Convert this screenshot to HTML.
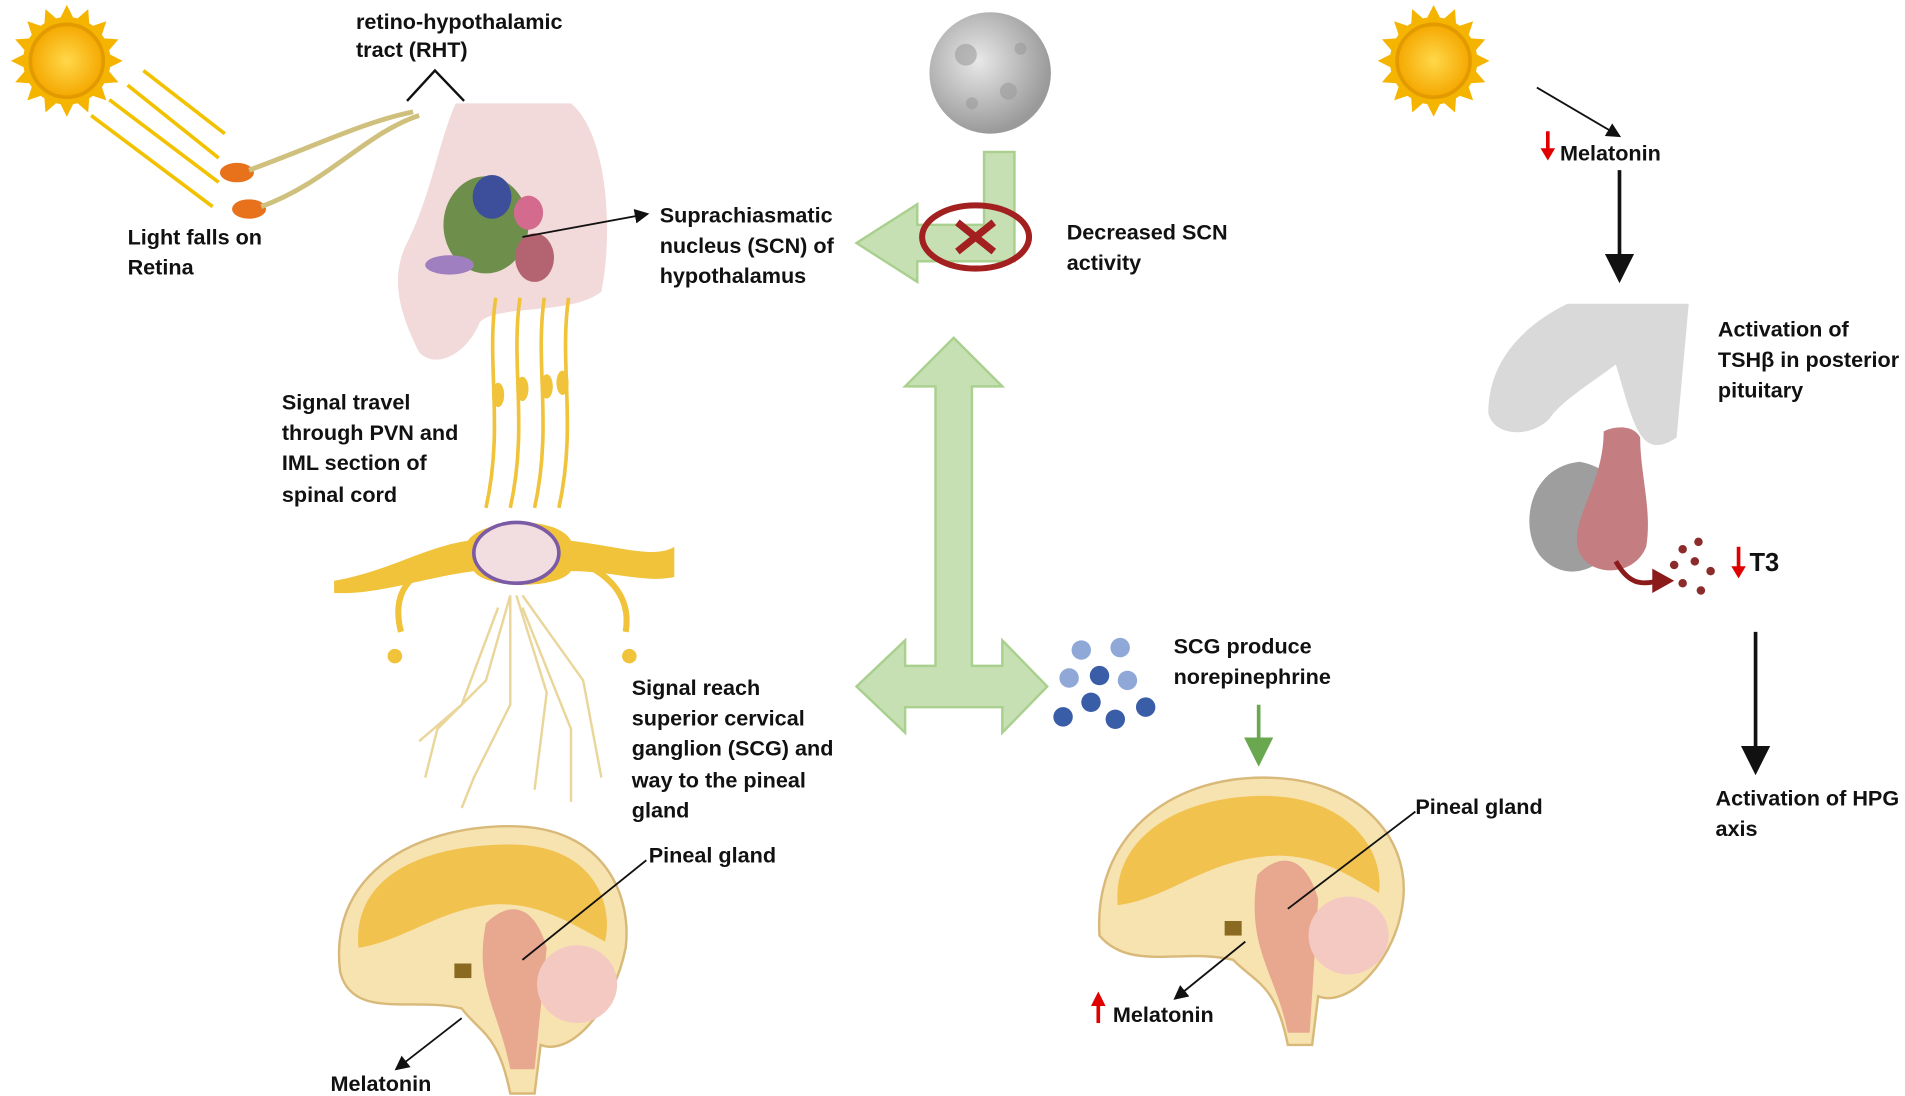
<!DOCTYPE html>
<html><head><meta charset="utf-8"><style>
html,body{margin:0;padding:0;background:#fff;}
svg{display:block;}
text{font-family:"Liberation Sans",sans-serif;font-weight:bold;font-size:17.8px;fill:#111;}
</style></head><body>
<svg width="1905" height="1096" viewBox="0 0 1568 902" xmlns="http://www.w3.org/2000/svg">
<defs>
<marker id="ah" markerWidth="8" markerHeight="8" refX="7" refY="4" orient="auto"><path d="M0,0 L8,4 L0,8 z" fill="#111"/></marker>
<marker id="ahg" markerWidth="8" markerHeight="8" refX="7" refY="4" orient="auto"><path d="M0,0 L8,4 L0,8 z" fill="#6aa84f"/></marker>
<radialGradient id="sun" cx="50%" cy="50%" r="50%"><stop offset="0" stop-color="#ffd84a"/><stop offset="1" stop-color="#f5a800"/></radialGradient>
<radialGradient id="moon" cx="40%" cy="40%" r="60%"><stop offset="0" stop-color="#e8e8e8"/><stop offset="1" stop-color="#9a9a9a"/></radialGradient>
<g id="sunG">
<g fill="#f5b400">
<path d="M0,-46 L6,-34 L-6,-34z"/><path d="M0,-46 L6,-34 L-6,-34z" transform="rotate(22.5)"/><path d="M0,-46 L6,-34 L-6,-34z" transform="rotate(45)"/><path d="M0,-46 L6,-34 L-6,-34z" transform="rotate(67.5)"/><path d="M0,-46 L6,-34 L-6,-34z" transform="rotate(90)"/><path d="M0,-46 L6,-34 L-6,-34z" transform="rotate(112.5)"/><path d="M0,-46 L6,-34 L-6,-34z" transform="rotate(135)"/><path d="M0,-46 L6,-34 L-6,-34z" transform="rotate(157.5)"/><path d="M0,-46 L6,-34 L-6,-34z" transform="rotate(180)"/><path d="M0,-46 L6,-34 L-6,-34z" transform="rotate(202.5)"/><path d="M0,-46 L6,-34 L-6,-34z" transform="rotate(225)"/><path d="M0,-46 L6,-34 L-6,-34z" transform="rotate(247.5)"/><path d="M0,-46 L6,-34 L-6,-34z" transform="rotate(270)"/><path d="M0,-46 L6,-34 L-6,-34z" transform="rotate(292.5)"/><path d="M0,-46 L6,-34 L-6,-34z" transform="rotate(315)"/><path d="M0,-46 L6,-34 L-6,-34z" transform="rotate(337.5)"/>
</g>
<circle r="36" fill="#f5b400"/><circle r="30" fill="url(#sun)" stroke="#e39a00" stroke-width="3"/>
</g>
</defs>
<use href="#sunG" x="55" y="50"/>
<use href="#sunG" x="1180" y="50"/>
<!-- light rays -->
<g stroke="#f2c200" stroke-width="3">
<line x1="75" y1="95" x2="175" y2="170"/><line x1="90" y1="82" x2="180" y2="150"/><line x1="105" y1="70" x2="180" y2="130"/><line x1="118" y1="58" x2="185" y2="110"/>
</g>
<ellipse cx="195" cy="142" rx="14" ry="8" fill="#e8711c"/><ellipse cx="205" cy="172" rx="14" ry="8" fill="#e8711c"/>
<path d="M205,140 C260,120 300,100 340,92 M215,170 C270,150 300,110 345,95" stroke="#cfc17d" stroke-width="4" fill="none"/>
<!-- hypothalamus -->
<path d="M375,85 L470,85 C500,110 505,190 495,240 C470,260 410,250 395,265 C385,290 360,305 345,290 C330,260 320,230 335,200 C355,160 360,120 375,85z" fill="#f2d9da"/>
<ellipse cx="400" cy="185" rx="35" ry="40" fill="#6e8f4c"/><ellipse cx="405" cy="162" rx="16" ry="18" fill="#3d4e9a"/>
<ellipse cx="440" cy="212" rx="16" ry="20" fill="#b46470"/><ellipse cx="435" cy="175" rx="12" ry="14" fill="#d46b8f"/>
<ellipse cx="370" cy="218" rx="20" ry="8" fill="#a07fc0"/>
<path d="M335,83 L358,58 L382,83" stroke="#111" stroke-width="2" fill="none"/>
<!-- nerves -->
<g stroke="#f0c33b" stroke-width="3" fill="none">
<path d="M408,245 C400,300 415,350 400,418"/><path d="M428,245 C420,300 435,350 420,418"/><path d="M448,245 C440,300 455,350 440,418"/><path d="M468,245 C460,300 475,350 460,418"/>
</g>
<g fill="#f0c33b"><ellipse cx="410" cy="325" rx="5" ry="10"/><ellipse cx="430" cy="320" rx="5" ry="10"/><ellipse cx="450" cy="318" rx="5" ry="10"/><ellipse cx="463" cy="315" rx="5" ry="10"/></g>
<!-- spinal cord -->
<path d="M275,478 C320,470 350,450 385,445 C400,425 460,425 470,445 C510,450 540,460 555,450 L555,475 C530,480 505,470 470,470 C460,485 400,485 390,470 C350,475 310,490 275,488z" fill="#f0c33b"/>
<ellipse cx="425" cy="455" rx="35" ry="25" fill="#f2dde0" stroke="#7b5aa6" stroke-width="3"/>
<path d="M330,520 C320,480 345,465 385,458 M515,520 C520,490 500,470 470,460" stroke="#f0c33b" stroke-width="5" fill="none"/>
<circle cx="325" cy="540" r="6" fill="#f0c33b"/><circle cx="518" cy="540" r="6" fill="#f0c33b"/>
<g stroke="#ead69a" stroke-width="2" fill="none">
<path d="M420,490 L400,560 L360,600 L350,640"/><path d="M420,490 L420,580 L390,640 L380,665"/><path d="M425,490 L450,570 L440,650"/><path d="M430,490 L480,560 L495,640"/><path d="M410,500 L380,580 L345,610"/><path d="M430,500 L470,600 L470,660"/>
</g>
<!-- left brain -->
<path d="M280,800 C270,720 340,680 420,680 C500,680 520,740 515,780 C505,830 470,870 445,860 L440,900 L420,900 C410,850 395,850 380,830 C340,820 290,840 280,800z" fill="#f7e3b0" stroke="#d8b97a" stroke-width="2"/>
<path d="M295,780 C290,720 350,695 420,695 C490,695 505,745 498,775 C470,760 440,740 400,745 C360,750 330,775 295,780z" fill="#f2c24f"/>
<path d="M400,760 C420,740 440,745 450,780 L440,880 L420,880 C410,830 390,810 400,760z" fill="#e8a78f"/>
<ellipse cx="475" cy="810" rx="33" ry="32" fill="#f4c9c2"/>
<rect x="374" y="793" width="14" height="12" fill="#8a6a20"/>
<!-- right brain -->
<path d="M905,770 C900,690 960,640 1040,640 C1120,640 1160,690 1155,740 C1150,790 1110,830 1085,820 L1080,860 L1060,860 C1050,810 1035,810 1015,790 C975,780 930,800 905,770z" fill="#f7e3b0" stroke="#d8b97a" stroke-width="2"/>
<path d="M920,745 C915,690 970,655 1040,655 C1110,655 1140,700 1135,735 C1110,720 1080,700 1040,705 C990,710 960,740 920,745z" fill="#f2c24f"/>
<path d="M1035,720 C1055,700 1075,705 1085,740 L1078,850 L1060,850 C1050,800 1025,780 1035,720z" fill="#e8a78f"/>
<ellipse cx="1110" cy="770" rx="33" ry="32" fill="#f4c9c2"/>
<rect x="1008" y="758" width="14" height="12" fill="#8a6a20"/>
<!-- moon -->
<circle cx="815" cy="60" r="50" fill="url(#moon)"/>
<g fill="#9c9c9c" opacity="0.6"><circle cx="795" cy="45" r="9"/><circle cx="830" cy="75" r="7"/><circle cx="840" cy="40" r="5"/><circle cx="800" cy="85" r="5"/></g>
<!-- green L arrow -->
<path d="M810,125 L835,125 L835,215 L755,215 L755,232 L705,200 L755,168 L755,185 L810,185z" fill="#c6e0b4" stroke="#a9d08e" stroke-width="2"/>
<ellipse cx="803" cy="195" rx="44" ry="26" fill="none" stroke="#a32020" stroke-width="5"/>
<path d="M788,183 L818,207 M818,183 L788,207" stroke="#a32020" stroke-width="6"/>
<!-- big green double arrow -->
<path d="M785,278 L825,318 L800,318 L800,548 L825,548 L825,527 L862,565 L825,603 L825,582 L745,582 L745,603 L705,565 L745,527 L745,548 L770,548 L770,318 L745,318 z" fill="#c6e0b4" stroke="#a9d08e" stroke-width="2"/>
<!-- blue dots -->
<g fill="#3a5da8">
<circle cx="890" cy="535" r="8" fill="#8fa8d8"/><circle cx="922" cy="533" r="8" fill="#8fa8d8"/><circle cx="880" cy="558" r="8" fill="#8fa8d8"/><circle cx="905" cy="556" r="8"/><circle cx="928" cy="560" r="8" fill="#8fa8d8"/><circle cx="898" cy="578" r="8"/><circle cx="875" cy="590" r="8"/><circle cx="918" cy="592" r="8"/><circle cx="943" cy="582" r="8"/>
</g>
<!-- pituitary -->
<path d="M1290,250 C1250,270 1225,300 1225,340 C1230,360 1260,360 1275,345 C1285,330 1310,315 1330,300 C1345,350 1350,380 1380,360 L1390,250z" fill="#d9d9d9"/>
<path d="M1300,380 C1255,385 1250,440 1270,460 C1290,480 1320,470 1335,440 C1340,410 1330,385 1300,380z" fill="#9e9e9e"/>
<path d="M1320,355 C1330,350 1345,350 1350,360 C1350,390 1360,420 1355,450 C1345,475 1310,475 1300,455 C1290,430 1320,400 1320,355z" fill="#c47d80"/>
<path d="M1330,462 C1340,480 1350,482 1365,478" stroke="#8b1a1a" stroke-width="4" fill="none"/>
<path d="M1360,468 L1378,478 L1360,488z" fill="#8b1a1a"/>
<g fill="#8b2b2b"><circle cx="1385" cy="452" r="3.5"/><circle cx="1398" cy="446" r="3.5"/><circle cx="1378" cy="465" r="3.5"/><circle cx="1395" cy="462" r="3.5"/><circle cx="1408" cy="470" r="3.5"/><circle cx="1385" cy="480" r="3.5"/><circle cx="1400" cy="486" r="3.5"/></g>
<!-- arrows -->
<g stroke="#111" stroke-width="1.5" fill="none">
<line x1="430" y1="195" x2="533" y2="176" marker-end="url(#ah)"/>
<line x1="1265" y1="72" x2="1333" y2="112" marker-end="url(#ah)"/>
<line x1="532" y1="708" x2="430" y2="790"/>
<line x1="1165" y1="668" x2="1060" y2="748"/>
<line x1="380" y1="838" x2="326" y2="880" marker-end="url(#ah)"/>
<line x1="1025" y1="775" x2="967" y2="822" marker-end="url(#ah)"/>
</g>
<g stroke="#111" stroke-width="3"><line x1="1333" y1="140" x2="1333" y2="230" marker-end="url(#ah)"/><line x1="1445" y1="520" x2="1445" y2="635" marker-end="url(#ah)"/></g>
<line x1="1036" y1="580" x2="1036" y2="628" stroke="#6aa84f" stroke-width="3" marker-end="url(#ahg)"/>
<g stroke="#e00000" stroke-width="3" fill="#e00000">
<line x1="1274" y1="108" x2="1274" y2="124"/><path d="M1268,122 L1280,122 L1274,132z" stroke="none"/>
<line x1="1431" y1="450" x2="1431" y2="468"/><path d="M1425,466 L1437,466 L1431,476z" stroke="none"/>
<line x1="904" y1="842" x2="904" y2="826"/><path d="M898,828 L910,828 L904,816z" stroke="none"/>
</g>
<!-- text -->
<text x="293" y="24">retino-hypothalamic</text><text x="293" y="47">tract (RHT)</text>
<text x="105" y="201">Light falls on</text><text x="105" y="226">Retina</text>
<text x="543" y="183">Suprachiasmatic</text><text x="543" y="208">nucleus (SCN) of</text><text x="543" y="233">hypothalamus</text>
<text x="878" y="197">Decreased SCN</text><text x="878" y="222">activity</text>
<text x="1284" y="132">Melatonin</text>
<text x="1414" y="277">Activation of</text><text x="1414" y="302">TSHβ in posterior</text><text x="1414" y="327">pituitary</text>
<text x="1440" y="470" style="font-size:21px">T3</text>
<text x="232" y="337">Signal travel</text><text x="232" y="362">through PVN and</text><text x="232" y="387">IML section of</text><text x="232" y="413">spinal cord</text>
<text x="966" y="538">SCG produce</text><text x="966" y="563">norepinephrine</text>
<text x="520" y="572">Signal reach</text><text x="520" y="597">superior cervical</text><text x="520" y="622">ganglion (SCG) and</text><text x="520" y="648">way to the pineal</text><text x="520" y="673">gland</text>
<text x="534" y="710">Pineal gland</text><text x="1165" y="670">Pineal gland</text>
<text x="1412" y="663">Activation of HPG</text><text x="1412" y="688">axis</text>
<text x="916" y="841">Melatonin</text><text x="272" y="898">Melatonin</text>
</svg>
</body></html>
